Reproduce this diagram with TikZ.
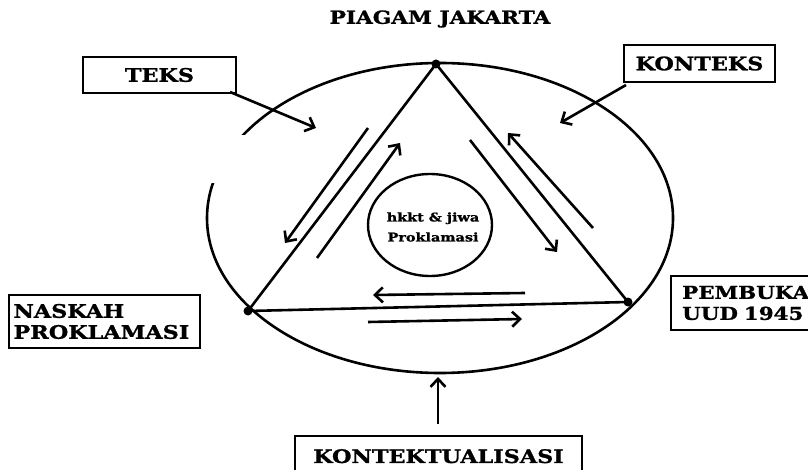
\documentclass[tikz,border=0pt]{standalone}
\usepackage{fontspec}
\newfontfamily\boxfont{DejaVu Serif}[FakeStretch=1.2, BoldFeatures={FakeBold=1.2}]
\usetikzlibrary{arrows.meta,shapes.geometric}
\tikzset{
  thick line/.style={line width=2.6pt},
  flow/.style={line width=2.6pt, -{Straight Barb[length=8pt,width=15pt]}},
  labelbox/.style={draw, line width=2.4pt, inner sep=0pt, font=\boxfont\bfseries\fontsize{18.6}{21}\selectfont},
  vdot/.style={circle, fill, inner sep=0pt, minimum size=9pt}
}
\begin{document}
\begin{tikzpicture}[x=1pt,y=-1pt]
\clip (0,0) rectangle (808,470);
\fill[white] (0,0) rectangle (808,470);
% title
\node[font=\boxfont\bfseries\fontsize{18}{20}\selectfont] (title) at (440,19) {PIAGAM JAKARTA};
% outer ellipse
\draw[thick line] (440,218) ellipse [x radius=233, y radius=155];
% white patch
\fill[white] (128,135) rectangle (249,183);
% vertices
\coordinate (A) at (436,64);
\coordinate (B) at (248,311);
\coordinate (C) at (628,302);
\draw[thick line] (A) -- (B) -- (C) -- cycle;
\node[vdot] (dA) at (A) {};
\node[vdot] (dB) at (B) {};
\node[vdot] (dC) at (C) {};
% inner circle
\node[draw, line width=2.4pt, ellipse, minimum width=124pt, minimum height=102pt, inner sep=0pt] (core) at (430,225) {};
\node[font=\boxfont\bfseries\fontsize{12}{20}\selectfont, align=center] (coretext) at (433,227) {hkkt \& jiwa\\Proklamasi};
% boxes
\node[labelbox, minimum width=153pt, minimum height=36pt] (teks) at (159.5,75) {TEKS};
\node[labelbox, minimum width=151pt, minimum height=37pt] (konteks) at (699.5,63.5) {KONTEKS};
\node[labelbox, minimum width=191pt, minimum height=53pt, align=left, text width=182pt] (naskah) at (104.5,321.5) {NASKAH\\PROKLAMASI};
\node[labelbox, anchor=west, minimum height=54pt, align=left, text width=160pt, inner xsep=11pt, font=\boxfont\bfseries\fontsize{17.8}{21}\selectfont] (pembuka) at (670,303) {PEMBUKA\\UUD 1945};
\node[labelbox, anchor=north, minimum width=287pt, minimum height=40pt] (kontek) at (438.5,435) {KONTEKTUALISASI};
% coordinates for arrows
\coordinate (t1) at (230,92);   \coordinate (t2) at (316,128);
\coordinate (k1) at (626,85);   \coordinate (k2) at (560,123);
\coordinate (l1s) at (368,128); \coordinate (l1e) at (285,243);
\coordinate (l2s) at (317,258); \coordinate (l2e) at (400,143);
\coordinate (r1s) at (470,140); \coordinate (r1e) at (557,252);
\coordinate (r2s) at (593,228); \coordinate (r2e) at (508,133);
\coordinate (b1s) at (525,293); \coordinate (b1e) at (373,295);
\coordinate (b2s) at (368,322); \coordinate (b2e) at (522,319);
\coordinate (u1s) at (438,424); \coordinate (u1e) at (438,377);
\draw[flow] (t1) -- (t2);
\draw[flow] (k1) -- (k2);
\draw[flow] (l1s) -- (l1e);
\draw[flow] (l2s) -- (l2e);
\draw[flow] (r1s) -- (r1e);
\draw[flow] (r2s) -- (r2e);
\draw[flow] (b1s) -- (b1e);
\draw[flow] (b2s) -- (b2e);
\draw[flow] (u1s) -- (u1e);
\end{tikzpicture}
\end{document}
